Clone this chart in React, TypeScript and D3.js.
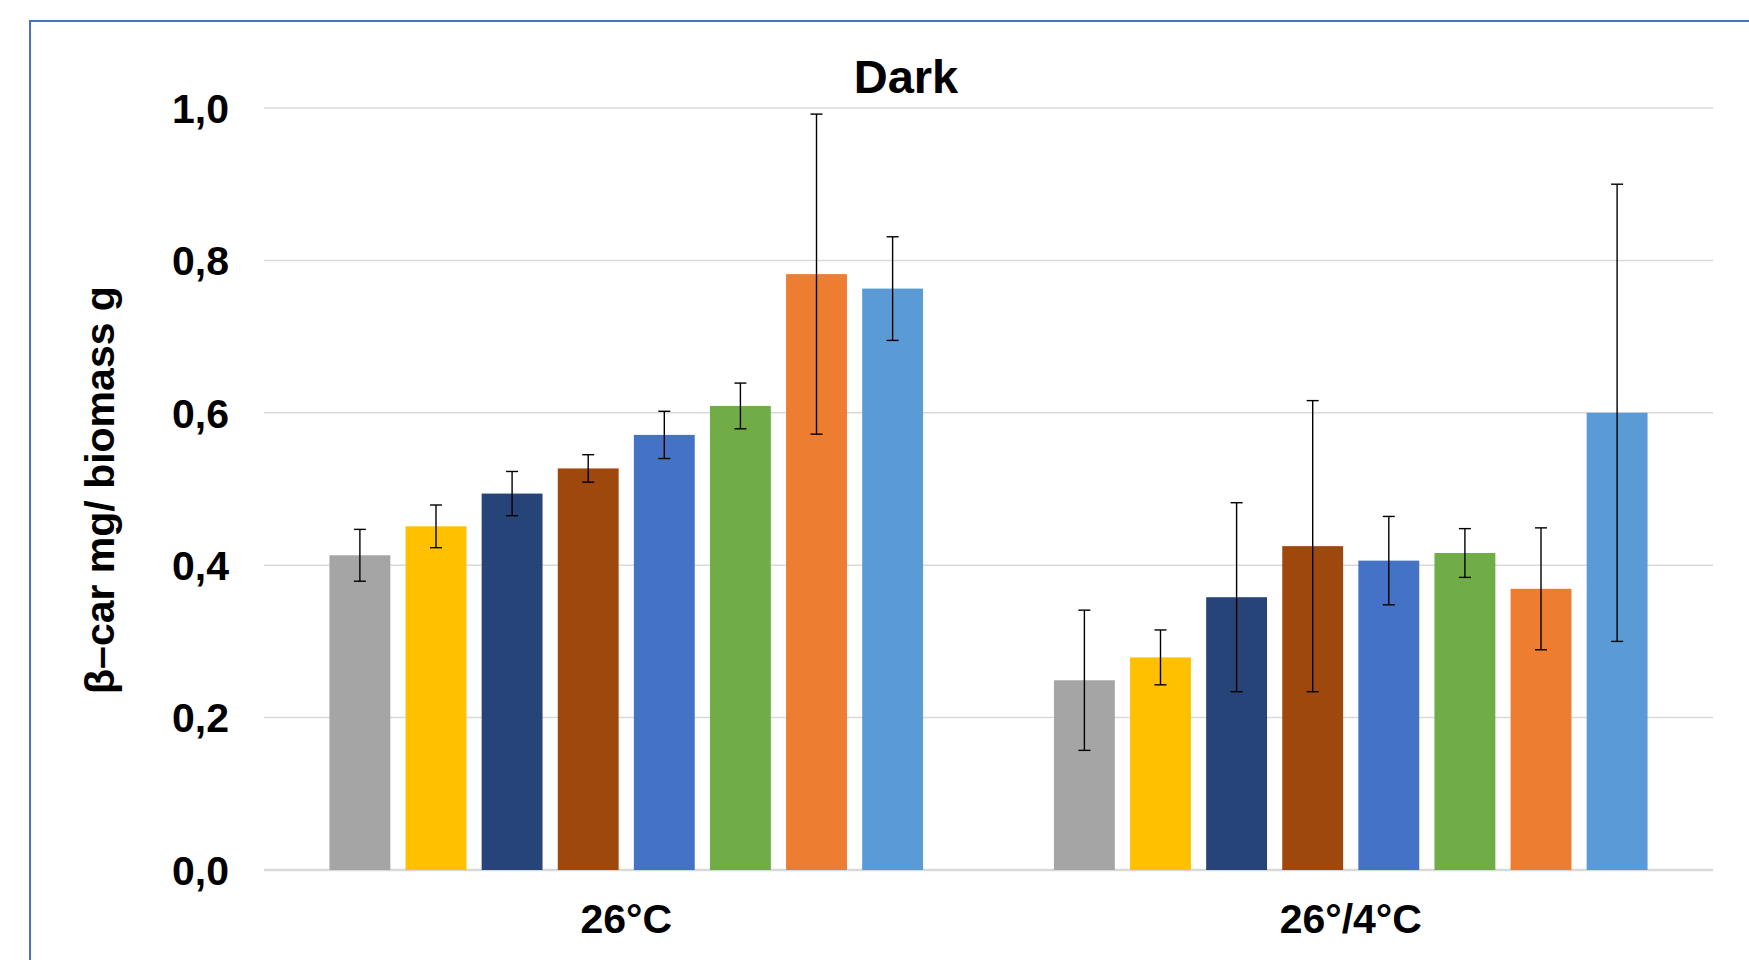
import React from "react";
import * as d3 from "d3";

const categories = ["26°C", "26°/4°C"];
const seriesNames = ["S1", "S2", "S3", "S4", "S5", "S6", "S7", "S8"];
const seriesColors = ["#A5A5A5", "#FFC000", "#264478", "#9E480E", "#4472C4", "#70AD47", "#ED7D31", "#5B9BD5"];
// values[categoryIndex][seriesIndex]
const values26 = [0.413, 0.451, 0.494, 0.527, 0.571, 0.609, 0.782, 0.763];
const values26_4 = [0.249, 0.279, 0.358, 0.425, 0.406, 0.416, 0.369, 0.6];
const errors26 = [0.034, 0.028, 0.029, 0.018, 0.031, 0.03, 0.21, 0.068];
const errors26_4 = [0.092, 0.036, 0.124, 0.191, 0.058, 0.032, 0.08, 0.3];
const yTicks = [0, 0.2, 0.4, 0.6, 0.8, 1.0];
const title = "Dark";
const yTitle = "β–car mg/ biomass g";

const W = 1749;
const H = 960;

export default function App() {
  const plotLeft = 264;
  const plotRight = 1713;
  const y = d3.scaleLinear().domain([0, 1]).range([870, 108]);
  const x0 = d3.scaleBand<string>().domain(categories).range([plotLeft, plotRight]).padding(0);
  const x1 = d3
    .scaleBand<string>()
    .domain(seriesNames)
    .range([0, x0.bandwidth()])
    .paddingInner(0.2)
    .paddingOuter(0.86);
  const allVals = [values26, values26_4];
  const allErr = [errors26, errors26_4];
  const fmt = (v: number) => d3.format(".1f")(v).replace(".", ",");
  const font = "'Liberation Sans', Arial, sans-serif";
  const capHalf = 6;

  return (
    <svg
      width={W}
      height={H}
      style={{ position: "absolute", left: 0, top: 0, background: "#fff" }}
      fontFamily={font}
    >
      <rect x={0} y={0} width={W} height={H} fill="#fff" />
      <rect x={30} y={21} width={W + 20} height={H + 20} fill="none" stroke="#4472C4" strokeWidth={2} />
      <text x={906} y={93} textAnchor="middle" fontSize={47} fontWeight="bold" fill="#000">
        {title}
      </text>
      {yTicks.map((t) => (
        <g key={t}>
          <line
            x1={plotLeft}
            x2={plotRight}
            y1={y(t)}
            y2={y(t)}
            stroke="#D9D9D9"
            strokeWidth={t === 0 ? 2.5 : 1.5}
          />
          <text x={229} y={y(t)} dy="0.36em" textAnchor="end" fontSize={41} fontWeight="bold" fill="#000">
            {fmt(t)}
          </text>
        </g>
      ))}
      <text
        transform={`translate(100, 490) rotate(-90)`}
        textAnchor="middle"
        dy="0.35em"
        fontSize={41}
        fontWeight="bold"
        fill="#000"
      >
        {yTitle}
      </text>
      {categories.map((c, ci) => (
        <g key={c} transform={`translate(${x0(c)},0)`}>
          {seriesNames.map((s, si) => {
            const v = allVals[ci][si];
            const e = allErr[ci][si];
            const bx = x1(s)!;
            const cx = bx + x1.bandwidth() / 2;
            return (
              <g key={s}>
                <rect x={bx} y={y(v)} width={x1.bandwidth()} height={y(0) - y(v)} fill={seriesColors[si]} />
                <line x1={cx} x2={cx} y1={y(v + e)} y2={y(v - e)} stroke="#000" strokeWidth={1.4} />
                <line x1={cx - capHalf} x2={cx + capHalf} y1={y(v + e)} y2={y(v + e)} stroke="#000" strokeWidth={1.4} />
                <line x1={cx - capHalf} x2={cx + capHalf} y1={y(v - e)} y2={y(v - e)} stroke="#000" strokeWidth={1.4} />
              </g>
            );
          })}
          <text x={x0.bandwidth() / 2} y={933} textAnchor="middle" fontSize={41} fontWeight="bold" fill="#000">
            {c}
          </text>
        </g>
      ))}
    </svg>
  );
}
